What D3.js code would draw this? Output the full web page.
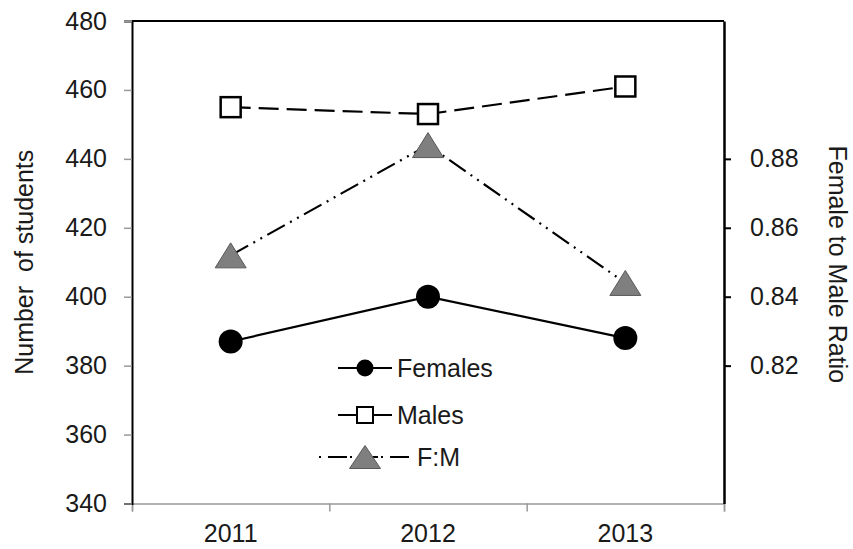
<!DOCTYPE html>
<html>
<head>
<meta charset="utf-8">
<script src="https://cdn.jsdelivr.net/npm/d3@7"></script>
<style>
  body { margin: 0; background: #fff; }
  svg text { font-family: Arial, "Liberation Sans", sans-serif; fill: #1a1a1a; }
</style>
</head>
<body>
<svg class="chart"></svg>
<script>
const years = ['2011', '2012', '2013'];
const females = [387, 400, 388];
const males = [455, 453, 461];
const ratio = [0.852, 0.884, 0.844];
const leftTicks = [340, 360, 380, 400, 420, 440, 460, 480];
const rightTicks = [0.82, 0.84, 0.86, 0.88];

const drawChart = () => {
  const width = 853;
  const height = 549;
  const margin = { top: 21, right: 129, bottom: 45.5, left: 132 };
  const x0 = margin.left;
  const x1 = width - margin.right;
  const y0 = height - margin.bottom;
  const y1 = margin.top;

  const svg = d3.select('.chart').attr('width', width).attr('height', height);

  const x = d3.scaleBand().domain(years).range([x0, x1]).padding(0);
  const yLeft = d3.scaleLinear().domain([340, 480]).range([y0, y1]);
  const yRight = d3.scaleLinear().domain([0.78, 0.92]).range([y0, y1]);
  const cx = d => x(d) + x.bandwidth() / 2;

  // frame: top and right in black
  svg.append('line')
    .attr('x1', x0).attr('x2', x1).attr('y1', y1).attr('y2', y1)
    .attr('stroke', '#000').attr('stroke-width', 2);

  // bottom axis: grey line with ticks between categories
  const bounds = d3.scaleLinear().domain([0, years.length]).range([x0, x1]);
  svg.append('g')
    .attr('transform', `translate(0,${y0})`)
    .call(d3.axisBottom(bounds).tickValues(d3.range(years.length + 1)).tickSize(8).tickFormat(''))
    .call(g => g.selectAll('path, line').attr('stroke', '#999').attr('stroke-width', 1.5));

  svg.append('g')
    .attr('transform', `translate(0,${y0})`)
    .call(d3.axisBottom(x).tickSize(0).tickPadding(21))
    .call(g => g.select('.domain').remove())
    .call(g => g.selectAll('text').attr('font-size', 25));

  // left axis
  svg.append('g')
    .attr('transform', `translate(${x0},0)`)
    .call(d3.axisLeft(yLeft).tickValues(leftTicks).tickSize(8).tickPadding(17))
    .call(g => g.select('.domain').attr('stroke', '#000').attr('stroke-width', 2))
    .call(g => g.selectAll('.tick line').attr('stroke', '#999').attr('stroke-width', 1.5))
    .call(g => g.selectAll('text').attr('font-size', 25));

  // right axis
  svg.append('g')
    .attr('transform', `translate(${x1},0)`)
    .call(d3.axisRight(yRight).tickValues(rightTicks).tickSize(7).tickPadding(19).tickFormat(d3.format('.2f')).tickSizeOuter(0))
    .call(g => g.select('.domain').attr('stroke', '#000').attr('stroke-width', 2.5))
    .call(g => g.selectAll('.tick line').attr('stroke', '#000').attr('stroke-width', 2))
    .call(g => g.selectAll('text').attr('font-size', 25));

  // axis titles
  svg.append('text')
    .attr('transform', `translate(33,${(y0 + y1) / 2}) rotate(-90)`)
    .attr('text-anchor', 'middle')
    .attr('font-size', 25)
    .attr('xml:space', 'preserve')
    .text('Number  of students');

  svg.append('text')
    .attr('transform', `translate(829,${(y0 + y1) / 2 + 2}) rotate(90)`)
    .attr('text-anchor', 'middle')
    .attr('font-size', 25)
    .text('Female to Male Ratio');

  const triangle = (w, h) => `M0,${-h / 2}L${w / 2},${h / 2}L${-w / 2},${h / 2}Z`;

  const series = [
    { name: 'Females', values: females, y: yLeft, dash: null },
    { name: 'Males', values: males, y: yLeft, dash: '20,8' },
    { name: 'F:M', values: ratio, y: yRight, dash: '20,6,2,6,2,6' }
  ];

  series.forEach(s => {
    const line = d3.line().x((d, i) => cx(years[i])).y(d => s.y(d));
    svg.append('path')
      .datum(s.values)
      .attr('fill', 'none')
      .attr('stroke', '#000')
      .attr('stroke-width', 2.2)
      .attr('stroke-dasharray', s.dash)
      .attr('d', line);
  });

  // markers
  svg.append('g').selectAll('circle')
    .data(females)
    .enter()
    .append('circle')
    .attr('cx', (d, i) => cx(years[i]))
    .attr('cy', d => yLeft(d))
    .attr('r', 12)
    .attr('fill', '#000');

  svg.append('g').selectAll('rect')
    .data(males)
    .enter()
    .append('rect')
    .attr('x', (d, i) => cx(years[i]) - 10)
    .attr('y', d => yLeft(d) - 10)
    .attr('width', 20)
    .attr('height', 20)
    .attr('fill', '#fff')
    .attr('stroke', '#000')
    .attr('stroke-width', 2.5);

  svg.append('g').selectAll('path')
    .data(ratio)
    .enter()
    .append('path')
    .attr('transform', (d, i) => `translate(${cx(years[i])},${yRight(d)})`)
    .attr('d', triangle(31, 25))
    .attr('fill', '#7f7f7f')
    .attr('stroke', '#595959')
    .attr('stroke-width', 1);

  // legend
  const legend = svg.append('g');
  const rows = [
    { y: 368, x1: 338, x2: 392, tx: 397 },
    { y: 415, x1: 338, x2: 392, tx: 397 },
    { y: 457, x1: 319, x2: 410, tx: 417 }
  ];
  const mx = 365;
  series.forEach((s, i) => {
    const r = rows[i];
    legend.append('line')
      .attr('x1', r.x1).attr('x2', r.x2).attr('y1', r.y).attr('y2', r.y)
      .attr('stroke', '#000').attr('stroke-width', 2.2)
      .attr('stroke-dasharray', i === 2 ? '2,7,19,3' : null);
    legend.append('text')
      .attr('x', r.tx).attr('y', r.y).attr('dy', '0.35em')
      .attr('font-size', 25)
      .text(s.name);
  });
  legend.append('circle').attr('cx', mx).attr('cy', rows[0].y).attr('r', 8.5).attr('fill', '#000');
  legend.append('rect')
    .attr('x', mx - 8).attr('y', rows[1].y - 8).attr('width', 16).attr('height', 16)
    .attr('fill', '#fff').attr('stroke', '#000').attr('stroke-width', 2);
  legend.append('path')
    .attr('transform', `translate(${mx},${rows[2].y})`)
    .attr('d', triangle(31, 23))
    .attr('fill', '#7f7f7f').attr('stroke', '#595959').attr('stroke-width', 1);
};

window.onload = drawChart;
</script>
</body>
</html>
